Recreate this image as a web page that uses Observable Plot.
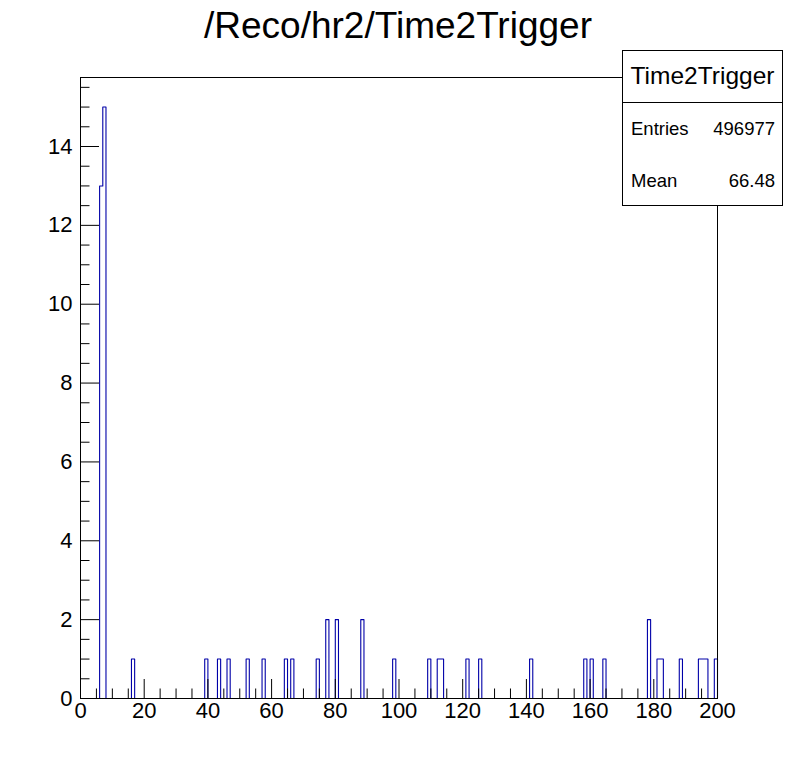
<!DOCTYPE html>
<html><head><meta charset="utf-8">
<script src="https://cdn.jsdelivr.net/npm/d3@7"></script>
<script src="https://cdn.jsdelivr.net/npm/@observablehq/plot@0.6"></script>
<style>
body{margin:0;background:#fff;font-family:"Liberation Sans",Arial,Helvetica,sans-serif;color:#000;}
#wrap{position:relative;width:798px;height:776px;overflow:hidden;}
#chart{position:absolute;left:0;top:0;}
.t{position:absolute;line-height:1;white-space:nowrap;}
#title{left:0;width:796px;top:7px;text-align:center;font-size:37px;}
#stats{position:absolute;left:622px;top:50px;width:161px;height:156px;border:1px solid #000;background:#fff;box-sizing:border-box;}
#statsDiv{position:absolute;left:0;right:0;top:51px;border-top:1px solid #000;}
</style></head>
<body>
<div id="wrap">
  <div id="chart"></div>
  <div class="t" id="title"></div>
  <div id="stats"><div id="statsDiv"></div></div>
</div>
<script>
// ---- data (1-unit bins from 0 to 200) ----
const histTitle = "/Reco/hr2/Time2Trigger";
const histName = "Time2Trigger";
const statLabels = ["Entries", "Mean"];
const statValues = ["496977", "66.48"];
const binLow = [6, 7, 16, 39, 43, 46, 52, 57, 64, 66, 74, 77, 80, 88, 98, 109, 112, 113, 121, 125, 141, 158, 160, 164, 178, 181, 182, 188, 194, 195, 196, 199];
const binCount = [13, 15, 1, 1, 1, 1, 1, 1, 1, 1, 1, 2, 2, 2, 1, 1, 1, 1, 1, 1, 1, 1, 1, 1, 2, 1, 1, 1, 1, 1, 1, 1];
const xMajorTicks = [0, 20, 40, 60, 80, 100, 120, 140, 160, 180, 200];
const yMajorTicks = [0, 2, 4, 6, 8, 10, 12, 14];
const xMin = 0, xMax = 200, nBins = 200, yMax = 15.75;

// ---- build the step outline table ----
const bins = d3.range(nBins).map(i => ({x: xMin + i * (xMax - xMin) / nBins, y: 0}));
binLow.forEach((b, k) => { bins[b - xMin].y = binCount[k]; });
bins.push({x: xMax, y: 0});
const xMinorTicks = d3.range(xMin, xMax + 0.001, 5).filter(v => !xMajorTicks.includes(v));
const yMinorTicks = d3.range(0, yMax, 0.5).filter(v => !yMajorTicks.includes(v));

const font = '"Liberation Sans", Arial, Helvetica, sans-serif';
const plot = Plot.plot({
  width: 798, height: 776,
  marginLeft: 80, marginRight: 81, marginTop: 77, marginBottom: 78,
  x: {domain: [xMin, xMax]},
  y: {domain: [0, yMax]},
  style: {fontFamily: font, fontSize: "22px", color: "#000", background: "#fff", overflow: "visible"},
  marks: [
    Plot.line(bins, {x: "x", y: "y", curve: "step-after", stroke: "#0000a8", strokeWidth: 1.1}),
    Plot.frame({stroke: "#000", strokeWidth: 1}),
    Plot.axisX({ticks: xMinorTicks, tickSize: -9.5, tickFormat: () => "", label: null, strokeWidth: 1}),
    Plot.axisX({ticks: xMajorTicks, tickSize: -19, tickPadding: 23, tickFormat: d => String(d), label: null, fontSize: 22, strokeWidth: 1}),
    Plot.axisY({ticks: yMinorTicks, tickSize: -9.5, tickFormat: () => "", label: null, strokeWidth: 1}),
    Plot.axisY({ticks: yMajorTicks, tickSize: -19, tickPadding: 27, tickFormat: d => String(d), label: null, fontSize: 22, strokeWidth: 1})
  ]
});
document.getElementById("chart").appendChild(plot);
document.getElementById("title").textContent = histTitle;

// ---- stats box ----
const stats = document.getElementById("stats");
function addText(txt, css) {
  const d = document.createElement("div");
  d.className = "t";
  d.textContent = txt;
  Object.assign(d.style, css);
  stats.appendChild(d);
}
addText(histName, {left: "0px", width: "159px", textAlign: "center", top: "12.5px", fontSize: "24.5px"});
const rowTops = [69, 121];
statLabels.forEach((lab, i) => {
  addText(lab, {left: "8px", top: rowTops[i] + "px", fontSize: "18.5px"});
  addText(statValues[i], {right: "7px", top: rowTops[i] + "px", fontSize: "18.5px"});
});
</script>
</body></html>
